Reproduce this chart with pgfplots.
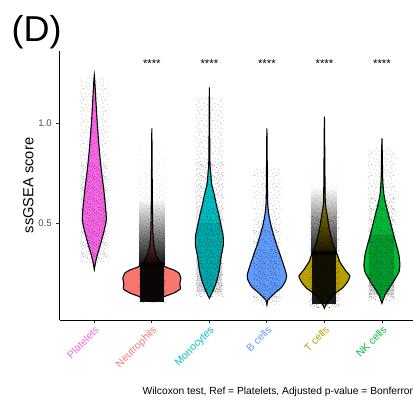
\documentclass[border=0pt]{standalone}
\usepackage{pgfplots}
\pgfplotsset{compat=1.18}
\usetikzlibrary{patterns,fadings}
\usepackage{fontspec}
\setmainfont{Liberation Sans}
\definecolor{cPla}{HTML}{F564E3}
\definecolor{cNeu}{HTML}{F8766D}
\definecolor{cMon}{HTML}{00BFC4}
\definecolor{cBce}{HTML}{619CFF}
\definecolor{cTce}{HTML}{B79F00}
\definecolor{cNKc}{HTML}{00BA38}
\pgfdeclarepatternformonly{jitA}{\pgfpointorigin}{\pgfpoint{8pt}{8pt}}{\pgfpoint{8pt}{8pt}}{%
  \pgfpathcircle{\pgfpoint{0.7pt}{1.3pt}}{0.4pt}\pgfpathcircle{\pgfpoint{3.1pt}{0.5pt}}{0.4pt}%
  \pgfpathcircle{\pgfpoint{5.6pt}{2.2pt}}{0.4pt}\pgfpathcircle{\pgfpoint{7.2pt}{5.1pt}}{0.4pt}%
  \pgfpathcircle{\pgfpoint{2.3pt}{4.6pt}}{0.4pt}\pgfpathcircle{\pgfpoint{4.4pt}{6.8pt}}{0.4pt}%
  \pgfpathcircle{\pgfpoint{6.1pt}{7.5pt}}{0.4pt}\pgfpathcircle{\pgfpoint{1.2pt}{6.9pt}}{0.4pt}%
  \pgfpathcircle{\pgfpoint{4.9pt}{4.0pt}}{0.4pt}\pgfusepath{fill}}
\pgfdeclarepatternformonly{jitB}{\pgfpointorigin}{\pgfpoint{8pt}{8pt}}{\pgfpoint{8pt}{8pt}}{%
  \pgfpathcircle{\pgfpoint{1.9pt}{2.8pt}}{0.4pt}\pgfpathcircle{\pgfpoint{4.2pt}{1.6pt}}{0.4pt}%
  \pgfpathcircle{\pgfpoint{6.8pt}{0.9pt}}{0.4pt}\pgfpathcircle{\pgfpoint{0.5pt}{4.1pt}}{0.4pt}%
  \pgfpathcircle{\pgfpoint{3.5pt}{5.5pt}}{0.4pt}\pgfpathcircle{\pgfpoint{5.8pt}{6.2pt}}{0.4pt}%
  \pgfpathcircle{\pgfpoint{7.5pt}{3.3pt}}{0.4pt}\pgfpathcircle{\pgfpoint{2.6pt}{7.5pt}}{0.4pt}%
  \pgfpathcircle{\pgfpoint{6.4pt}{4.7pt}}{0.4pt}\pgfusepath{fill}}
\pgfdeclarepatternformonly{jitC}{\pgfpointorigin}{\pgfpoint{8pt}{8pt}}{\pgfpoint{8pt}{8pt}}{%
  \pgfpathcircle{\pgfpoint{0.9pt}{0.5pt}}{0.4pt}\pgfpathcircle{\pgfpoint{2.8pt}{2.1pt}}{0.4pt}%
  \pgfpathcircle{\pgfpoint{5.1pt}{0.7pt}}{0.4pt}\pgfpathcircle{\pgfpoint{7.5pt}{1.9pt}}{0.4pt}%
  \pgfpathcircle{\pgfpoint{1.5pt}{5.3pt}}{0.4pt}\pgfpathcircle{\pgfpoint{4.0pt}{3.2pt}}{0.4pt}%
  \pgfpathcircle{\pgfpoint{6.9pt}{6.8pt}}{0.4pt}\pgfpathcircle{\pgfpoint{3.3pt}{7.0pt}}{0.4pt}%
  \pgfpathcircle{\pgfpoint{5.4pt}{5.0pt}}{0.4pt}\pgfusepath{fill}}
\begin{document}
\begin{tikzpicture}
\useasboundingbox (0,0) rectangle (309.75pt,299.25pt);
\clip (0,0) rectangle (309.75pt,299.25pt);
\node[anchor=north west, inner sep=0pt, font=\fontsize{27}{27}\selectfont] at (8.5pt,288pt) {(D)};
\node[anchor=base west, inner sep=0pt, font=\fontsize{7.7}{8}\selectfont] at (106.8pt,3.4pt) {Wilcoxon test, Ref = Platelets, Adjusted p-value = Bonferroni};
\begin{axis}[
  at={(44.85pt,59.25pt)}, anchor=south west,
  scale only axis, width=267.5pt, height=201.75pt,
  xmin=0.4, xmax=6.6, ymin=0.015, ymax=1.36,
  axis x line*=bottom, axis y line*=left,
  axis line style={-, black, line width=0.7pt},
  xtick={1,2,3,4,5,6},
  xticklabels={\textcolor{cPla}{Platelets},\textcolor{cNeu}{Neutrophils},\textcolor{cMon}{Monocytes},\textcolor{cBce}{B cells},\textcolor{cTce}{T cells},\textcolor{cNKc}{NK cells}},
  ytick={0.5,1.0},
  yticklabels={0.5,1.0},
  tick align=outside, major tick length=2.5pt,
  tick style={black!80, line width=0.6pt},
  xticklabel style={rotate=45, anchor=north east, font=\fontsize{7.8}{8}\selectfont, inner sep=1pt},
  yticklabel style={font=\fontsize{7.2}{8}\selectfont, text=black!70},
  ylabel={ssGSEA score},
  every axis y label/.style={at={(axis description cs:-0.0883,0.5)}, rotate=90, anchor=center, font=\fontsize{11}{12}\selectfont},
  jit/.style={draw=none, fill=black, fill opacity=#1, forget plot},
  jfade/.style={draw=none, fill=black, fill opacity=#1, path fading=north, forget plot},
  pA/.style={draw=none, pattern=jitA, pattern color=black, fill opacity=#1, forget plot},
  pB/.style={draw=none, pattern=jitB, pattern color=black, fill opacity=#1, forget plot},
  pC/.style={draw=none, pattern=jitC, pattern color=black, fill opacity=#1, forget plot},
  vio/.style={draw=black, line width=0.8pt, smooth, tension=0.3, fill=#1, forget plot},
]
% violins
\addplot[vio=cPla] coordinates {(1,0.268) (1.023,0.305) (1.052,0.34) (1.104,0.39) (1.174,0.465) (1.209,0.515) (1.200,0.565) (1.165,0.665) (1.122,0.765) (1.087,0.865) (1.047,1.015) (1.017,1.165) (1,1.24) (0.983,1.165) (0.953,1.015) (0.913,0.865) (0.878,0.765) (0.835,0.665) (0.800,0.565) (0.791,0.515) (0.826,0.465) (0.896,0.39) (0.948,0.34) (0.977,0.305)} --cycle;
\addplot[vio=cNeu] coordinates {(2,0.1065) (2.104,0.12) (2.243,0.135) (2.382,0.15) (2.495,0.17) (2.487,0.195) (2.504,0.225) (2.469,0.25) (2.382,0.265) (2.243,0.28) (2.139,0.305) (2.078,0.34) (2.035,0.39) (2.017,0.465) (2.009,0.615) (2,0.9735) (1.991,0.615) (1.983,0.465) (1.965,0.39) (1.922,0.34) (1.861,0.305) (1.757,0.28) (1.618,0.265) (1.531,0.25) (1.496,0.225) (1.513,0.195) (1.505,0.17) (1.618,0.15) (1.757,0.135) (1.896,0.12)} --cycle;
\addplot[vio=cMon] coordinates {(3,0.1235) (3.070,0.165) (3.134,0.215) (3.174,0.265) (3.191,0.305) (3.209,0.34) (3.243,0.39) (3.238,0.44) (3.200,0.49) (3.165,0.54) (3.122,0.59) (3.087,0.64) (3.043,0.69) (3.026,0.74) (3.009,0.815) (3,1.1785) (2.991,0.815) (2.974,0.74) (2.957,0.69) (2.913,0.64) (2.878,0.59) (2.835,0.54) (2.800,0.49) (2.762,0.44) (2.757,0.39) (2.791,0.34) (2.809,0.305) (2.826,0.265) (2.866,0.215) (2.930,0.165)} --cycle;
\addplot[vio=cBce] coordinates {(4,0.09) (4.017,0.115) (4.052,0.125) (4.139,0.15) (4.261,0.18) (4.330,0.215) (4.342,0.24) (4.290,0.29) (4.231,0.34) (4.170,0.39) (4.116,0.44) (4.070,0.49) (4.035,0.54) (4.012,0.615) (4,0.9735) (3.988,0.615) (3.965,0.54) (3.930,0.49) (3.884,0.44) (3.830,0.39) (3.769,0.34) (3.710,0.29) (3.658,0.24) (3.670,0.215) (3.739,0.18) (3.861,0.15) (3.948,0.125) (3.983,0.115)} --cycle;
\addplot[vio=cTce] coordinates {(5,0.0735) (5.026,0.09) (5.078,0.115) (5.174,0.145) (5.313,0.175) (5.400,0.205) (5.443,0.235) (5.361,0.265) (5.269,0.305) (5.226,0.34) (5.153,0.39) (5.109,0.44) (5.073,0.49) (5.047,0.54) (5.014,0.615) (5,1.0315) (4.986,0.615) (4.953,0.54) (4.927,0.49) (4.891,0.44) (4.847,0.39) (4.774,0.34) (4.731,0.305) (4.639,0.265) (4.557,0.235) (4.600,0.205) (4.687,0.175) (4.826,0.145) (4.922,0.115) (4.974,0.09)} --cycle;
\addplot[vio=cNKc] coordinates {(6,0.0985) (6.052,0.14) (6.130,0.175) (6.217,0.215) (6.295,0.255) (6.313,0.29) (6.295,0.34) (6.252,0.39) (6.203,0.44) (6.160,0.49) (6.116,0.54) (6.070,0.59) (6.035,0.64) (6.014,0.715) (6,0.9235) (5.986,0.715) (5.965,0.64) (5.930,0.59) (5.884,0.54) (5.840,0.49) (5.797,0.44) (5.748,0.39) (5.705,0.34) (5.687,0.29) (5.705,0.255) (5.783,0.215) (5.870,0.175) (5.948,0.14)} --cycle;
% jittered points: dotted density bands
% Platelets
\addplot[pA=0.35] coordinates {(0.757,0.30) (1.243,0.30) (1.243,1.22) (0.757,1.22)} --cycle;
\addplot[pB=0.45] coordinates {(0.770,0.32) (1.230,0.32) (1.230,0.80) (0.770,0.80)} --cycle;
% Neutrophils
\addplot[pA=0.6, path fading=north] coordinates {(1.757,0.10) (2.243,0.10) (2.243,0.98) (1.757,0.98)} --cycle;
\addplot[pB=0.5] coordinates {(1.765,0.10) (2.235,0.10) (2.235,0.45) (1.765,0.45)} --cycle;
\addplot[jfade=0.95] coordinates {(1.780,0.29) (2.220,0.29) (2.220,0.62) (1.780,0.62)} --cycle;
\addplot[jit=0.95] coordinates {(1.791,0.105) (2.209,0.105) (2.209,0.30) (1.791,0.30)} --cycle;
% Monocytes
\addplot[pA=0.35] coordinates {(2.757,0.13) (3.243,0.13) (3.243,1.12) (2.757,1.12)} --cycle;
\addplot[pB=0.45] coordinates {(2.765,0.13) (3.235,0.13) (3.235,0.80) (2.765,0.80)} --cycle;
\addplot[pC=0.5] coordinates {(2.774,0.15) (3.226,0.15) (3.226,0.56) (2.774,0.56)} --cycle;
\addplot[jit=0.10] coordinates {(2.780,0.15) (3.220,0.15) (3.220,0.50) (2.780,0.50)} --cycle;
% B cells
\addplot[pA=0.35] coordinates {(3.757,0.09) (4.243,0.09) (4.243,0.77) (3.757,0.77)} --cycle;
\addplot[pB=0.45] coordinates {(3.765,0.10) (4.235,0.10) (4.235,0.50) (3.765,0.50)} --cycle;
\addplot[pC=0.45] coordinates {(3.774,0.12) (4.226,0.12) (4.226,0.37) (3.774,0.37)} --cycle;
% T cells
\addplot[pA=0.6, path fading=north] coordinates {(4.731,0.075) (5.269,0.075) (5.269,0.85) (4.731,0.85)} --cycle;
\addplot[pB=0.5] coordinates {(4.748,0.075) (5.252,0.075) (5.252,0.55) (4.748,0.55)} --cycle;
\addplot[jfade=0.9] coordinates {(4.774,0.34) (5.226,0.34) (5.226,0.68) (4.774,0.68)} --cycle;
\addplot[jit=0.9] coordinates {(4.791,0.095) (5.209,0.095) (5.209,0.36) (4.791,0.36)} --cycle;
% NK cells
\addplot[pA=0.35] coordinates {(5.757,0.11) (6.243,0.11) (6.243,0.87) (5.757,0.87)} --cycle;
\addplot[pB=0.5] coordinates {(5.765,0.11) (6.235,0.11) (6.235,0.62) (5.765,0.62)} --cycle;
\addplot[pC=0.5] coordinates {(5.774,0.13) (6.226,0.13) (6.226,0.46) (5.774,0.46)} --cycle;
\addplot[jit=0.15] coordinates {(5.783,0.14) (6.217,0.14) (6.217,0.44) (5.783,0.44)} --cycle;
% significance labels
\node[anchor=base, inner sep=0pt, font=\fontsize{8.5}{9}\selectfont] at (axis cs:2,1.277) {****};
\node[anchor=base, inner sep=0pt, font=\fontsize{8.5}{9}\selectfont] at (axis cs:3,1.277) {****};
\node[anchor=base, inner sep=0pt, font=\fontsize{8.5}{9}\selectfont] at (axis cs:4,1.277) {****};
\node[anchor=base, inner sep=0pt, font=\fontsize{8.5}{9}\selectfont] at (axis cs:5,1.277) {****};
\node[anchor=base, inner sep=0pt, font=\fontsize{8.5}{9}\selectfont] at (axis cs:6,1.277) {****};
\end{axis}
\end{tikzpicture}
\end{document}
